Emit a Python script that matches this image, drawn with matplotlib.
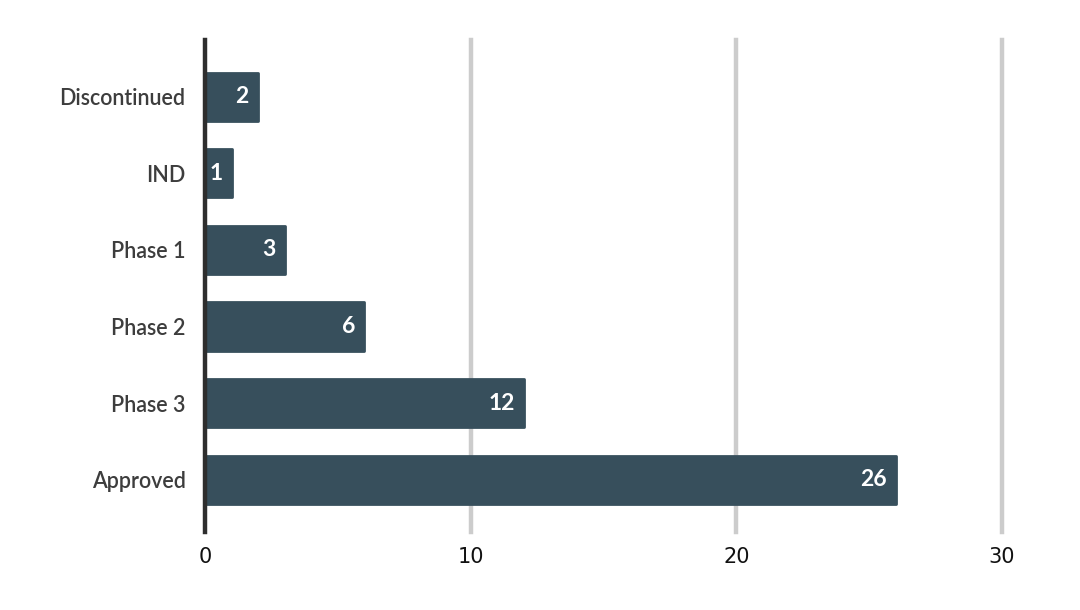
import matplotlib
matplotlib.use("Agg")
import matplotlib.pyplot as plt
import numpy as np

# Data
stages = ["Discontinued", "IND", "Phase 1", "Phase 2", "Phase 3", "Approved"]
counts = [2, 1, 3, 6, 12, 26]
xticks = [0, 10, 20, 30]

bar_color = "#374f5c"

fig = plt.figure(figsize=(10.8, 6.1), dpi=100, facecolor="w")
ax = fig.add_axes([205 / 1080, 1 - 532 / 610, (1002 - 205) / 1080, (532 - 40) / 610])

ypos = np.arange(len(stages))
bars = ax.barh(ypos, counts, height=0.63, color=bar_color, edgecolor=bar_color,
               linewidth=2, joinstyle="round", zorder=3)

for y, v in zip(ypos, counts):
    ax.text(v - 0.35, y, str(v), ha="right", va="center", color="white",
            fontsize=16.5, fontweight="bold", family="Lato", zorder=4)

ax.set_xlim(0, 30)
ax.set_ylim(len(stages) - 1 + 0.68, -0.74)
ax.set_yticks(ypos)
ax.set_yticklabels(stages, family="Lato", fontsize=15.5, fontweight=600, color="#3d3d3d")
ax.set_xticks(xticks)
ax.set_xticklabels([str(t) for t in xticks], fontsize=15, color="#111111",
                   family=["Liberation Sans Narrow", "DejaVu Sans"])
ax.tick_params(axis="both", length=0)
ax.tick_params(axis="x", pad=11)
ax.tick_params(axis="y", pad=14)

for t in xticks[1:]:
    ax.axvline(t, color="#cccccc", lw=3.2, zorder=1, clip_on=False)

for s in ["top", "right", "bottom"]:
    ax.spines[s].set_visible(False)
ax.spines["left"].set_linewidth(3.2)
ax.spines["left"].set_color("#2e2e2e")
ax.spines["left"].set_zorder(5)

plt.savefig("out.png", dpi=100, facecolor="w")
